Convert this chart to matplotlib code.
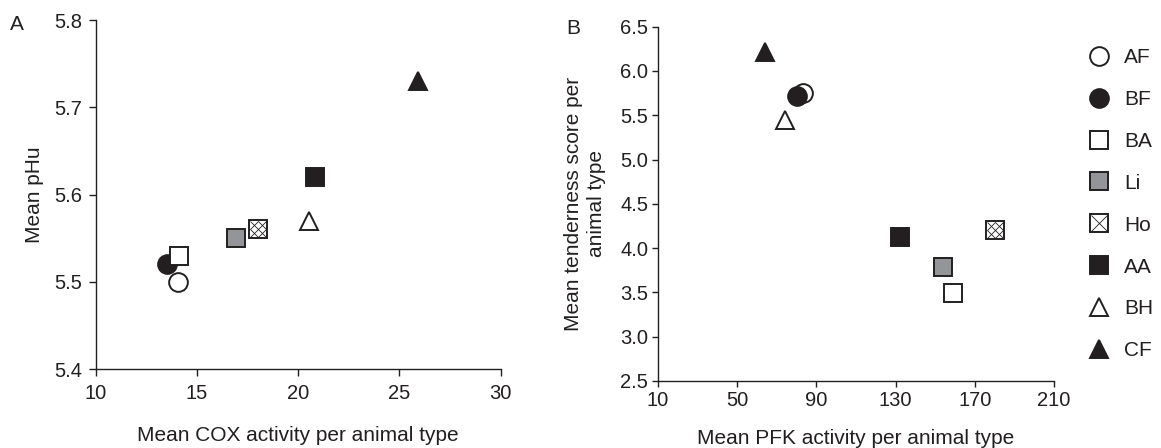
import matplotlib
matplotlib.use("Agg")
import matplotlib.pyplot as plt
from matplotlib.lines import Line2D

plt.rcParams['font.family'] = ['Liberation Sans', 'DejaVu Sans']

# ---- data ----
types = ["AF", "BF", "BA", "Li", "Ho", "AA", "BH", "CF"]
cox = [14.05, 13.5, 14.13, 16.94, 18.02, 20.82, 20.54, 25.91]
phu = [5.50, 5.52, 5.53, 5.55, 5.56, 5.62, 5.57, 5.73]
pfk = [83.0, 80.0, 159.0, 154.0, 180.0, 132.0, 74.0, 64.0]
tender = [5.75, 5.72, 3.49, 3.79, 4.20, 4.12, 5.45, 6.21]

BLACK = "#231f20"
GRAY = "#939598"
styles = {
    "AF": dict(marker="o", mfc="white"),
    "BF": dict(marker="o", mfc=BLACK),
    "BA": dict(marker="s", mfc="white"),
    "Li": dict(marker="s", mfc=GRAY),
    "Ho": dict(marker="s", mfc="white"),
    "AA": dict(marker="s", mfc=BLACK),
    "BH": dict(marker="^", mfc="white"),
    "CF": dict(marker="^", mfc=BLACK),
}
MS = 13.5
MEW = 1.4
FS_TICK = 14.5
FS_LAB = 15

fig = plt.figure(figsize=(11.61, 4.48), dpi=100)
axA = fig.add_axes([0.0824, 0.1763, 0.3489, 0.7790])
axB = fig.add_axes([0.5668, 0.1496, 0.3410, 0.7908])


def draw(ax, xs, ys):
    for t, x, y in zip(types, xs, ys):
        st = styles[t]
        ax.plot([x], [y], linestyle="none", marker=st["marker"], ms=MS,
                mfc=st["mfc"], mec=BLACK, mew=MEW, clip_on=False, zorder=3)
        if t == "Ho":
            ax.plot([x], [y], linestyle="none", marker="x", ms=MS - 1.5,
                    mec=BLACK, mew=0.6, clip_on=False, zorder=4)
            ax.plot([x], [y], linestyle="none", marker="D", ms=(MS - 1.5) * 0.707,
                    mfc="none", mec=BLACK, mew=0.6, clip_on=False, zorder=4)


draw(axA, cox, phu)
draw(axB, pfk, tender)

for ax in (axA, axB):
    for s in ("top", "right"):
        ax.spines[s].set_visible(False)
    for s in ("left", "bottom"):
        ax.spines[s].set_color(BLACK)
        ax.spines[s].set_linewidth(1.0)
    ax.tick_params(direction="out", width=1.0, colors=BLACK, labelsize=FS_TICK)

axA.tick_params(axis="x", length=5, pad=6)
axA.tick_params(axis="y", length=5, pad=5)
axB.tick_params(axis="x", length=4, pad=3)
axB.tick_params(axis="y", length=4, pad=3)

axA.set_xlim(10, 30)
axA.set_ylim(5.4, 5.8)
axA.set_xticks([10, 15, 20, 25, 30])
axA.set_yticks([5.4, 5.5, 5.6, 5.7, 5.8])
axA.set_yticklabels(["5.4", "5.5", "5.6", "5.7", "5.8"])
axA.set_xlabel("Mean COX activity per animal type", fontsize=FS_LAB, color=BLACK, labelpad=16)
axA.set_ylabel("Mean pHu", fontsize=FS_LAB, color=BLACK, labelpad=7)

axB.set_xlim(10, 210)
axB.set_ylim(2.5, 6.5)
axB.set_xticks([10, 50, 90, 130, 170, 210])
axB.set_yticks([2.5, 3.0, 3.5, 4.0, 4.5, 5.0, 5.5, 6.0, 6.5])
axB.set_yticklabels(["2.5", "3.0", "3.5", "4.0", "4.5", "5.0", "5.5", "6.0", "6.5"])
axB.set_xlabel("Mean PFK activity per animal type", fontsize=FS_LAB, color=BLACK, labelpad=14)
axB.set_ylabel("Mean tenderness score per\nanimal type", fontsize=FS_LAB, color=BLACK,
               labelpad=10, linespacing=1.3)

fig.text(10 / 1161, 1 - 25 / 448, "A", fontsize=FS_LAB, color=BLACK, va="center", ha="left")
fig.text(566 / 1161, 1 - 28 / 448, "B", fontsize=FS_LAB, color=BLACK, va="center", ha="left")

# legend
handles = []
for t in types:
    st = styles[t]
    h = Line2D([], [], linestyle="none", marker=st["marker"], ms=MS,
               mfc=st["mfc"], mec=BLACK, mew=MEW)
    if t == "Ho":
        hx = Line2D([], [], linestyle="none", marker="x", ms=MS - 1.5,
                    mec=BLACK, mew=0.6)
        h = (h, hx)
    handles.append(h)
leg = fig.legend(handles, types, loc="upper left",
                 bbox_to_anchor=(1089 / 1161, 1 - 48 / 448),
                 frameon=False, fontsize=FS_LAB, labelspacing=1.1,
                 handlelength=1.0, handletextpad=0.7, borderpad=0, borderaxespad=0)
for txt in leg.get_texts():
    txt.set_color(BLACK)

fig.savefig("out.png", dpi=100)
